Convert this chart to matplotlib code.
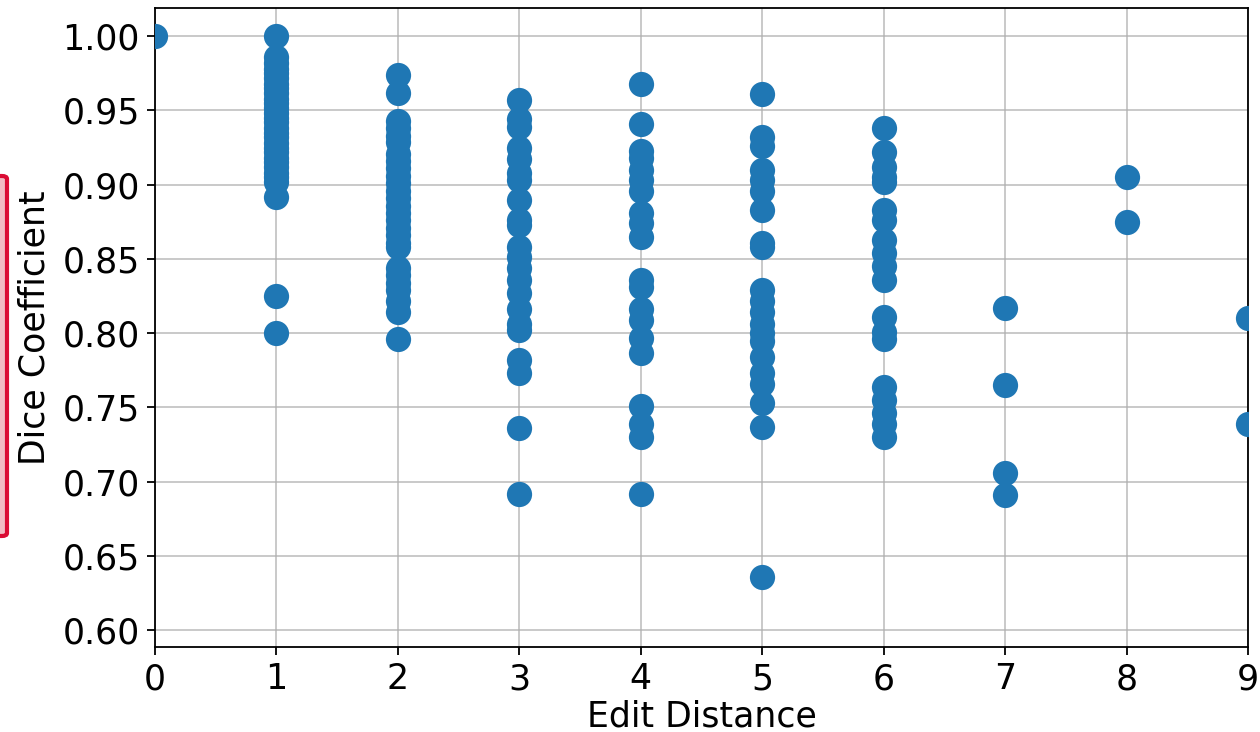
import matplotlib
matplotlib.use("Agg")
import matplotlib.pyplot as plt
from matplotlib.patches import FancyBboxPatch

# Data: edit distance -> dice coefficients
d0 = [1.000]
d1 = [1.000, 0.986, 0.982, 0.978, 0.975, 0.972, 0.968, 0.965, 0.962, 0.958, 0.955,
      0.952, 0.948, 0.945, 0.942, 0.938, 0.935, 0.932, 0.928, 0.925, 0.922, 0.918,
      0.915, 0.912, 0.908, 0.905, 0.902, 0.892, 0.825, 0.800]
d2 = [0.974, 0.962, 0.943, 0.938, 0.933, 0.929, 0.921, 0.916, 0.911, 0.906, 0.901,
      0.896, 0.891, 0.886, 0.881, 0.876, 0.871, 0.866, 0.861, 0.858, 0.844, 0.839,
      0.834, 0.829, 0.822, 0.814, 0.796]
d3 = [0.957, 0.944, 0.939, 0.925, 0.917, 0.908, 0.903, 0.890, 0.876, 0.873, 0.858,
      0.851, 0.844, 0.836, 0.827, 0.816, 0.806, 0.802, 0.782, 0.773, 0.736, 0.692]
d4 = [0.968, 0.941, 0.923, 0.918, 0.910, 0.903, 0.896, 0.881, 0.874, 0.865, 0.836,
      0.831, 0.816, 0.809, 0.797, 0.787, 0.751, 0.739, 0.730, 0.692]
d5 = [0.961, 0.932, 0.926, 0.910, 0.903, 0.896, 0.883, 0.861, 0.858, 0.829, 0.822,
      0.814, 0.806, 0.800, 0.795, 0.784, 0.773, 0.766, 0.753, 0.737, 0.636]
d6 = [0.938, 0.922, 0.912, 0.905, 0.902, 0.883, 0.876, 0.863, 0.854, 0.845, 0.836,
      0.811, 0.801, 0.796, 0.764, 0.755, 0.746, 0.739, 0.730]
d7 = [0.817, 0.765, 0.706, 0.691]
d8 = [0.905, 0.875]
d9 = [0.810, 0.739]

columns = [d0, d1, d2, d3, d4, d5, d6, d7, d8, d9]
xs, ys = [], []
for dist, vals in enumerate(columns):
    xs.extend([dist] * len(vals))
    ys.extend(vals)

fig = plt.figure(figsize=(12.6, 7.32), dpi=100)
ax = fig.add_axes([0.123, 0.116, 0.8675, 0.873])
ax.scatter(xs, ys, s=330, color="#1f77b4", linewidths=0, zorder=3)

ax.set_xlim(0, 9)
ax.set_ylim(0.5886, 1.019)
ax.set_xticks(range(0, 10))
ax.set_yticks([0.60, 0.65, 0.70, 0.75, 0.80, 0.85, 0.90, 0.95, 1.00])
ax.set_yticklabels([f"{v:.2f}" for v in ax.get_yticks()])
ax.grid(True, color="#b0b0b0", linewidth=1.2, alpha=0.8)
ax.set_axisbelow(True)
ax.tick_params(labelsize=25, length=6, width=1.3, pad=5)
for sp in ax.spines.values():
    sp.set_linewidth(1.3)
ax.set_xlabel("Edit Distance", fontsize=25, labelpad=2)
ax.set_ylabel("Dice Coefficient", fontsize=25, labelpad=8)

# red highlight bracket at left edge
rect = FancyBboxPatch((-20 / 1260, 1 - 536 / 732), 27 / 1260, 360 / 732,
                      boxstyle="round,pad=0,rounding_size=0.004",
                      transform=fig.transFigure, facecolor="#f2b8c0",
                      edgecolor="#d9002a", linewidth=3, alpha=0.95, clip_on=False)
fig.patches.append(rect)

fig.savefig("out.png", dpi=100)
